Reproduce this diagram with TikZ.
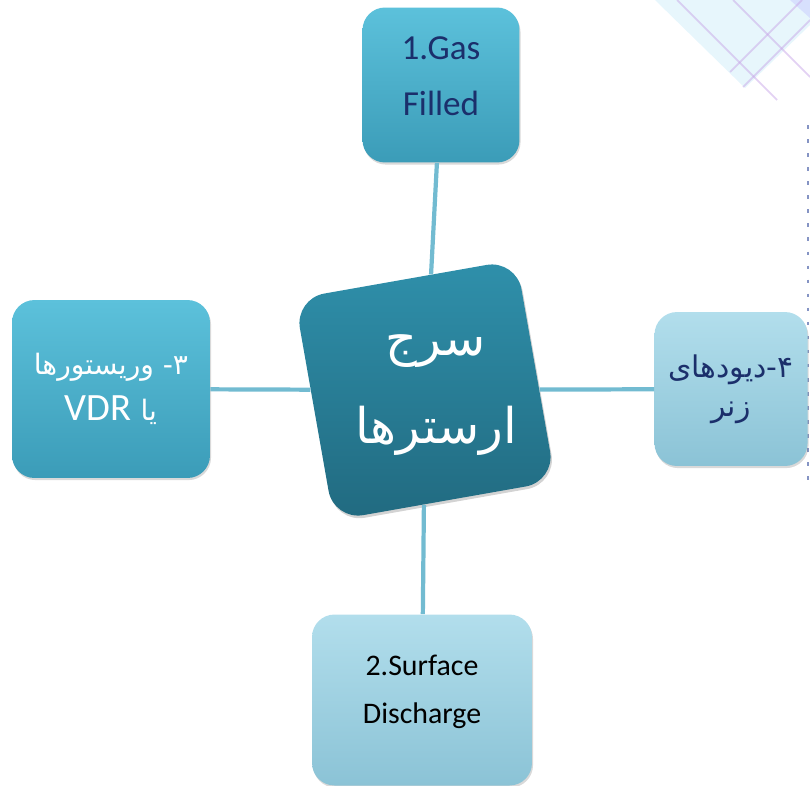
\documentclass[tikz,border=0pt]{standalone}
\usepackage{fontspec}
\setmainfont{Carlito}
\newfontfamily\fa[Script=Arabic]{DejaVu Sans}
\TeXXeTstate=1
\usetikzlibrary{shadows}

\definecolor{hubtop}{HTML}{2F90AB}
\definecolor{hubbot}{HTML}{216A80}
\definecolor{midtop}{HTML}{5CC1DB}
\definecolor{midbot}{HTML}{3B9CB8}
\definecolor{paletop}{HTML}{B2DEEC}
\definecolor{palebot}{HTML}{8BC3D6}
\definecolor{linkblue}{HTML}{72BBD1}
\definecolor{navy}{HTML}{1B2F6B}
\definecolor{decoline}{HTML}{C8A6E8}
\definecolor{decofill}{HTML}{DDF2FB}
\definecolor{dotblue}{HTML}{8594C4}

\tikzset{
  leaf/.style={rectangle, rounded corners=0.45cm, align=center,
    drop shadow={opacity=0.3, shadow xshift=0.6pt, shadow yshift=-1.2pt}},
  darkleaf/.style={leaf, top color=midtop, bottom color=midbot},
  paleleaf/.style={leaf, top color=paletop, bottom color=palebot},
  hub/.style={rectangle, rounded corners=0.6cm, minimum size=4.5cm,
    top color=hubtop, bottom color=hubbot,
    drop shadow={opacity=0.35, shadow xshift=0.8pt, shadow yshift=-1.5pt}},
  link/.style={draw=linkblue, line width=2.4pt},
  deco/.style={draw=decoline, line width=1pt, opacity=0.5}
}

\begin{document}
\begin{tikzpicture}[x=0.02cm, y=-0.02cm]

\useasboundingbox (0,0) rectangle (810,785);

% corner pattern and dotted edge
\fill[decofill, opacity=0.7] (655,0) -- (745,88) -- (810,25) -- (810,0) -- cycle;
\fill[blue!25, opacity=0.4] (790,0) -- (810,0) -- (810,18) -- cycle;
\foreach \a/\b/\c/\d in {677/0/777/100, 733/0/810/77, 730/72/802/0, 743/87/810/20}
  {\draw[deco] (\a,\b) -- (\c,\d);}
\draw[dotblue, line width=1pt, dash pattern=on 2pt off 6pt] (808,125) -- (808,480);

% boxes
\node[hub, rotate=10] (hub) at (425,390) {};
\node[text=white, align=center, font=\fa\fontsize{28}{50}\selectfont] (hubtext) at (436,395)
  {\beginR سرج\endR\\\beginR ارسترها\endR};

\node[darkleaf, minimum width=3.14cm, minimum height=3.1cm, text=navy, text depth=10pt,
  font=\fontsize{20}{32}\selectfont] (gas) at (441,85) {1.Gas\\Filled};
\node[darkleaf, minimum width=3.96cm, minimum height=3.56cm, text=white,
  font=\fa\fontsize{16}{26}\selectfont] (vdr) at (111,389)
  {\beginR ۳- وریستورها\endR\\\beginR یا \beginL{\rmfamily\fontsize{22}{26}\selectfont VDR}\endL\endR};
\node[paleleaf, minimum width=3.06cm, minimum height=3.08cm, text=navy,
  font=\fa\fontsize{17}{22}\selectfont] (zener) at (731,389)
  {\beginR ۴-دیودهای\endR\\\beginR زنر\endR};
\node[paleleaf, minimum width=4.4cm, minimum height=3.42cm, text depth=12pt,
  font=\fontsize{17}{27}\selectfont] (surface) at (422,700) {2.Surface\\Discharge};

% links
\foreach \n in {gas,vdr,zener,surface} {\draw[link] (hub) -- (\n);}

\end{tikzpicture}
\end{document}
